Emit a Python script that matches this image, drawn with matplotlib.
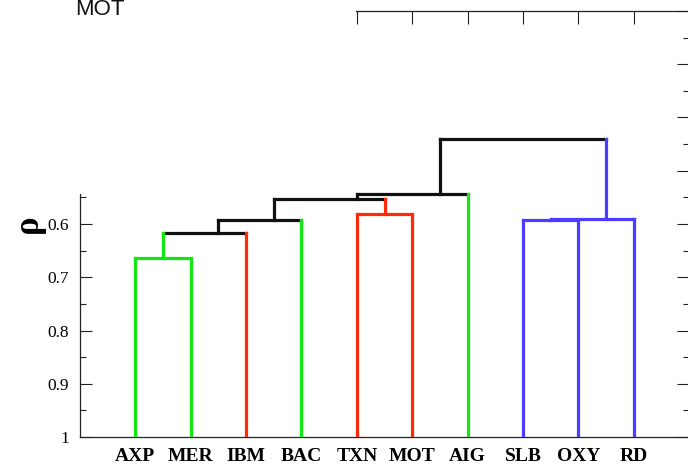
import matplotlib
matplotlib.use('Agg')
import matplotlib.pyplot as plt
from matplotlib.patches import Rectangle
from matplotlib.ticker import MultipleLocator, FuncFormatter

# ---- data ----
leaves = ['AXP', 'MER', 'IBM', 'BAC', 'TXN', 'MOT', 'AIG', 'SLB', 'OXY', 'RD']
leaf_groups = ['g', 'g', 'r', 'g', 'r', 'r', 'g', 'b', 'b', 'b']
# merges (ids 0-9 are leaves, 10+ are clusters in order of creation)
merge_left = [0, 10, 11, 4, 12, 14, 7, 16, 15]
merge_right = [1, 2, 3, 5, 13, 6, 8, 9, 17]
merge_rho = [0.664, 0.6175, 0.5925, 0.581, 0.553, 0.543, 0.5925, 0.5906, 0.440]
merge_groups = ['g', 'k', 'k', 'r', 'k', 'k', 'b', 'b', 'k']
leaf_rho = 1.0
y_ticks = [0.2, 0.3, 0.4, 0.5, 0.6, 0.7, 0.8, 0.9, 1.0]

group_colors = {'g': '#14e614', 'r': '#ff2a0a', 'b': '#4a3dff', 'k': '#111111'}

# ---- figure ----
fig = plt.figure(figsize=(6.88, 4.65), dpi=100)
ax = fig.add_axes([80 / 688, 28 / 465, 609 / 688, 426 / 465])

n = len(leaves)
xpos = list(range(1, n + 1))
right_leaf = list(range(1, n + 1))
height = [leaf_rho] * n
group = list(leaf_groups)

lw = 2.3
for l, r, h, g in zip(merge_left, merge_right, merge_rho, merge_groups):
    # horizontal link
    ax.plot([xpos[l], xpos[r]], [h, h], color=group_colors[g], lw=lw,
            solid_capstyle='projecting', zorder=2)
    # vertical legs of the children
    for c in (l, r):
        ax.plot([xpos[c], xpos[c]], [height[c], h], color=group_colors[group[c]],
                lw=lw, solid_capstyle='projecting', zorder=3)
    xpos.append((right_leaf[l] + right_leaf[r]) / 2)
    right_leaf.append(right_leaf[r])
    height.append(h)
    group.append(g)

ax.set_xlim(0, 11)
ax.set_ylim(1.0, 0.2)

ax.set_xticks(range(1, n + 1))
ax.set_xticklabels(leaves, fontfamily='Liberation Serif', fontweight='bold', fontsize=14)
ax.set_yticks(y_ticks)
ax.yaxis.set_major_formatter(FuncFormatter(lambda v, p: f'{v:g}' if v >= 0.595 else ''))
ax.yaxis.set_minor_locator(MultipleLocator(0.05))
for lab in ax.get_yticklabels():
    lab.set_fontfamily('Liberation Serif')
    lab.set_fontsize(12.5)

ax.tick_params(axis='x', direction='in', length=9, width=0.8, color='#222222',
               top=True, bottom=True, pad=8)
ax.tick_params(axis='y', which='major', direction='in', length=8.5, width=0.8,
               color='#222222', left=True, right=True, pad=8)
ax.tick_params(axis='y', which='minor', direction='in', length=4.3, width=0.8,
               color='#222222', left=True, right=True)
for s in ax.spines.values():
    s.set_linewidth(0.9)
    s.set_color('#222222')

ax.set_ylabel('ρ', fontfamily='Liberation Serif', fontweight='bold', fontsize=25,
              va='center')
ax.yaxis.set_label_coords(-0.085, 0.5)

# white overlay covering the upper-left corner (as in the reference)
fig.add_artist(Rectangle((0, 1 - 194 / 465), 356 / 688, 194 / 465,
                         transform=fig.transFigure, facecolor='white',
                         edgecolor='none', zorder=10))
fig.text(75 / 688, 1 - 15 / 465, 'MOT', fontfamily='Liberation Sans', fontsize=16,
         va='baseline', ha='left', color='#111111', zorder=11)

fig.savefig('out.png', dpi=100)
